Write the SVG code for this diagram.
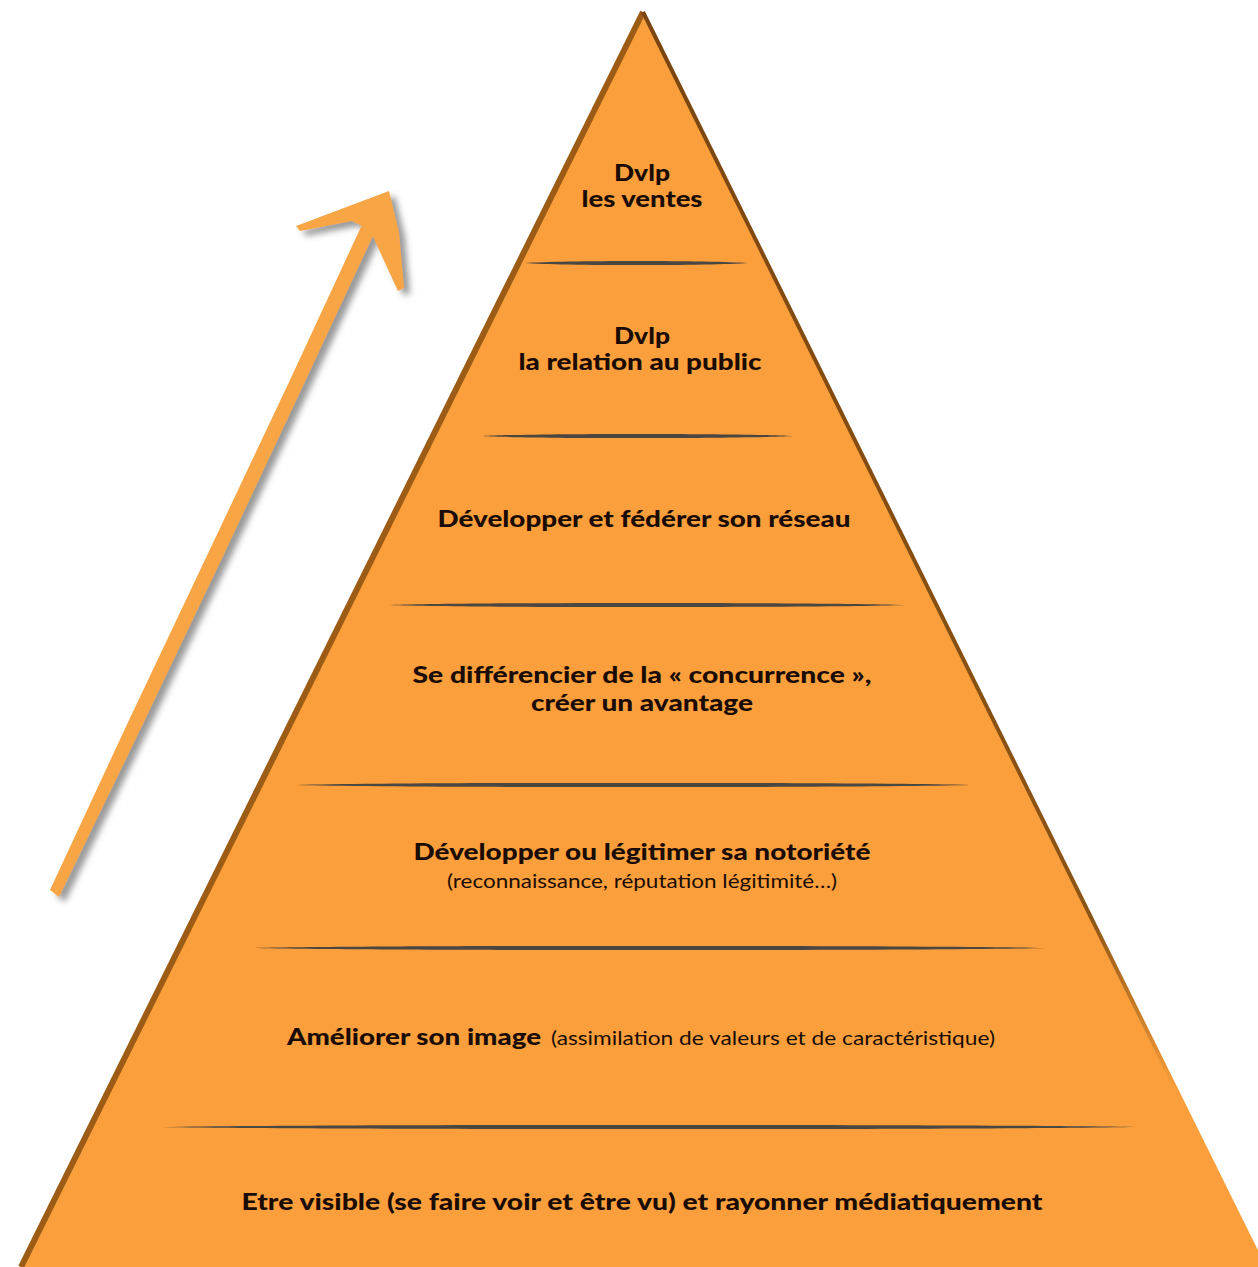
<svg xmlns="http://www.w3.org/2000/svg" width="1258" height="1267" viewBox="0 0 1258 1267">
<style>
.b{font-family:Lato,"Open Sans","Liberation Sans",sans-serif;font-weight:900;font-size:23px;fill:#1a0c04}
.r{font-family:Lato,"Open Sans","Liberation Sans",sans-serif;font-weight:400;font-size:19px;fill:#1a0c04}
.sep{fill:#4a4642}
</style>
<defs>
<linearGradient id="rightEdge" gradientUnits="userSpaceOnUse" x1="0" y1="12" x2="0" y2="1267">
<stop offset="0" stop-color="#7a4510"/>
<stop offset="0.72" stop-color="#8c5414"/>
<stop offset="0.86" stop-color="#fa9f3b"/>
<stop offset="1" stop-color="#fa9f3b"/>
</linearGradient>
<filter id="shadow" x="-20%" y="-20%" width="140%" height="140%">
<feDropShadow dx="6" dy="5" stdDeviation="3" flood-color="#555" flood-opacity="0.6"/>
</filter>
</defs>
<rect width="1258" height="1267" fill="#ffffff"/>

<g id="pyramid">
<polygon points="643,12 1264,1267 21,1267" fill="#fa9f3b"/>
<line x1="643" y1="12" x2="21" y2="1267" stroke="#9c5c16" stroke-width="6"/>
<line x1="643" y1="12" x2="1264" y2="1267" stroke="url(#rightEdge)" stroke-width="4"/>
</g>

<g id="arrow" filter="url(#shadow)">
<polygon points="50,890 130,718 212,545 290,380 366,216 379,223 302,388 225,552 142,726 59,897" fill="#f7a545"/>
<polygon points="389,191 296,226 300,231 352,221 370,230 398,291 404,288 399,232" fill="#f7a545"/>
</g>

<g id="separators">
<path class="sep" d="M525,263 C560,260.2 713,260.2 748,263 C713,265.8 560,265.8 525,263 Z"/>
<path class="sep" d="M483,436 C530,433.2 746,433.2 793,436 C746,438.8 530,438.8 483,436 Z"/>
<path class="sep" d="M390,605 C467,602.2 828,602.2 905,605 C828,607.8 467,607.8 390,605 Z"/>
<path class="sep" d="M297,785 C398,782.2 869,782.2 970,785 C869,787.8 398,787.8 297,785 Z"/>
<path class="sep" d="M254,948 C373,945.2 926,945.2 1045,948 C926,950.8 373,950.8 254,948 Z"/>
<path class="sep" d="M163,1127 C309,1124.2 988,1124.2 1134,1127 C988,1129.8 309,1129.8 163,1127 Z"/>
</g>

<g id="level7">
<text class="b" x="642" y="181" text-anchor="middle" textLength="56" lengthAdjust="spacingAndGlyphs">Dvlp</text>
<text class="b" x="642" y="207" text-anchor="middle" textLength="121" lengthAdjust="spacingAndGlyphs">les ventes</text>
</g>
<g id="level6">
<text class="b" x="642" y="344" text-anchor="middle" textLength="56" lengthAdjust="spacingAndGlyphs">Dvlp</text>
<text class="b" x="640" y="370" text-anchor="middle" textLength="243" lengthAdjust="spacingAndGlyphs">la relation au public</text>
</g>
<g id="level5">
<text class="b" x="644" y="527" text-anchor="middle" textLength="413" lengthAdjust="spacingAndGlyphs">Développer et fédérer son réseau</text>
</g>
<g id="level4">
<text class="b" x="642" y="683" text-anchor="middle" textLength="459" lengthAdjust="spacingAndGlyphs">Se différencier de la « concurrence »,</text>
<text class="b" x="642" y="711" text-anchor="middle" textLength="222" lengthAdjust="spacingAndGlyphs">créer un avantage</text>
</g>
<g id="level3">
<text class="b" x="642" y="860" text-anchor="middle" textLength="457" lengthAdjust="spacingAndGlyphs">Développer ou légitimer sa notoriété</text>
<text class="r" x="642" y="888" text-anchor="middle" textLength="390" lengthAdjust="spacingAndGlyphs">(reconnaissance, réputation légitimité…)</text>
</g>
<g id="level2">
<text class="b" x="287" y="1045" textLength="254" lengthAdjust="spacingAndGlyphs">Améliorer son image</text>
<text class="r" x="551" y="1045" textLength="444" lengthAdjust="spacingAndGlyphs">(assimilation de valeurs et de caractéristique)</text>
</g>
<g id="level1">
<text class="b" x="642" y="1210" text-anchor="middle" textLength="801" lengthAdjust="spacingAndGlyphs">Etre visible (se faire voir et être vu) et rayonner médiatiquement</text>
</g>
</svg>
